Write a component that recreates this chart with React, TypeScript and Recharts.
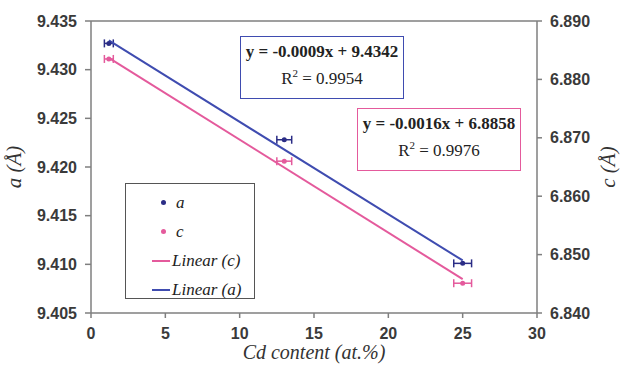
import { ScatterChart, Scatter, XAxis, YAxis, ErrorBar, ReferenceLine } from 'recharts'

document.body.style.margin = '0'

// measured lattice parameters vs Cd content
const cdContent = [1.2, 13.0, 25.0]
const cdError = [0.3, 0.5, 0.6]
const aValues = [9.4327, 9.4228, 9.4101]
const cValues = [6.8835, 6.866, 6.8451]

// linear trend endpoints as drawn
const trendX = [1.2, 25.0]
const trendA = [9.433, 9.4104]
const trendC = [6.8837, 6.8458]

const xTicks = [0, 5, 10, 15, 20, 25, 30]
const aTicks = [9.405, 9.41, 9.415, 9.42, 9.425, 9.43, 9.435]
const cTicks = [6.84, 6.85, 6.86, 6.87, 6.88, 6.89]

const BLUE = '#3f4cb0'
const NAVY = '#2b2d86'
const PINK = '#e45a9c'
const AXIS = '#7f7f7f'

const aData = cdContent.map((x, i) => ({ x, y: aValues[i], err: cdError[i] }))
const cData = cdContent.map((x, i) => ({ x, y: cValues[i], err: cdError[i] }))
const lineA = trendX.map((x, i) => ({ x, y: trendA[i] }))
const lineC = trendX.map((x, i) => ({ x, y: trendC[i] }))

const tickStyle = { fontFamily: 'Liberation Sans', fontSize: 16, fontWeight: 700, fill: '#3a3a3a' }
const serif = 'Liberation Serif'

const Dot = (color: string) => (props: any) => <circle cx={props.cx} cy={props.cy} r={2.5} fill={color} />
const NoDot = () => <g />

function Legend() {
  const row = { display: 'flex', alignItems: 'center', height: 29 }
  const label = { fontFamily: serif, fontStyle: 'italic', fontSize: 17, color: '#222' }
  return (
    <div style={{ position: 'absolute', left: 125, top: 183, width: 130, height: 116, border: '1.5px solid #555', boxSizing: 'border-box', padding: '4px 0 0 26px' }}>
      <div style={row}><span style={{ width: 5, height: 5, borderRadius: 3, background: NAVY, margin: '0 10px 0 9px' }} /><span style={label}>a</span></div>
      <div style={row}><span style={{ width: 5, height: 5, borderRadius: 3, background: PINK, margin: '0 10px 0 9px' }} /><span style={label}>c</span></div>
      <div style={row}><span style={{ width: 18, height: 2, background: PINK, marginRight: 2 }} /><span style={label}>Linear (c)</span></div>
      <div style={row}><span style={{ width: 18, height: 2, background: BLUE, marginRight: 2 }} /><span style={label}>Linear (a)</span></div>
    </div>
  )
}

function EqBox({ left, top, color, eq, r2 }: { left: number; top: number; color: string; eq: string; r2: string }) {
  return (
    <div style={{ position: 'absolute', left, top, width: 164, height: 63, border: `1.5px solid ${color}`, boxSizing: 'border-box', fontFamily: serif, fontSize: 17, color: '#222', textAlign: 'center', background: '#fff' }}>
      <div style={{ fontWeight: 700, marginTop: 5 }}>{eq}</div>
      <div style={{ marginTop: 5 }}>R<sup style={{ fontSize: 11 }}>2</sup> = {r2}</div>
    </div>
  )
}

export default function App() {
  return (
    <div style={{ position: 'relative', width: 620, height: 365, background: '#fff' }}>
      <ScatterChart width={620} height={365} margin={{ top: 21, right: 0, bottom: 0, left: 0 }}>
        <XAxis
          type="number"
          dataKey="x"
          domain={[0, 30]}
          ticks={xTicks}
          stroke={AXIS}
          strokeWidth={1.5}
          tickSize={5}
          tickMargin={10}
          tick={tickStyle}
          height={52}
          label={{ value: 'Cd content (at.%)', position: 'insideBottom', offset: 6, style: { fontFamily: serif, fontStyle: 'italic', fontSize: 20, fill: '#333' } }}
        />
        <YAxis
          yAxisId="a"
          type="number"
          dataKey="y"
          domain={[9.405, 9.435]}
          ticks={aTicks}
          tickFormatter={(v: number) => v.toFixed(3)}
          stroke={AXIS}
          strokeWidth={1.5}
          tickSize={6}
          tickMargin={8}
          tick={tickStyle}
          width={91}
          label={{ value: 'a (Å)', angle: -90, position: 'insideLeft', offset: 14, style: { fontFamily: serif, fontStyle: 'italic', fontSize: 21, fill: '#333', textAnchor: 'middle' } }}
        />
        <YAxis
          yAxisId="c"
          orientation="right"
          type="number"
          dataKey="y"
          domain={[6.84, 6.89]}
          ticks={cTicks}
          tickFormatter={(v: number) => v.toFixed(3)}
          stroke={AXIS}
          strokeWidth={1.5}
          tickSize={5}
          tickMargin={8}
          tick={tickStyle}
          width={83}
          label={{ value: 'c (Å)', angle: -90, position: 'insideRight', offset: 12, style: { fontFamily: serif, fontStyle: 'italic', fontSize: 21, fill: '#333', textAnchor: 'middle' } }}
        />
        <ReferenceLine yAxisId="a" y={9.435} stroke={AXIS} strokeWidth={1.5} />
        <Scatter yAxisId="c" data={lineC} line={{ stroke: PINK, strokeWidth: 2 }} shape={NoDot} isAnimationActive={false} />
        <Scatter yAxisId="a" data={lineA} line={{ stroke: BLUE, strokeWidth: 2 }} shape={NoDot} isAnimationActive={false} />
        <Scatter yAxisId="c" data={cData} shape={Dot(PINK)} isAnimationActive={false}>
          <ErrorBar dataKey="err" direction="x" stroke={PINK} strokeWidth={1.5} width={4} />
        </Scatter>
        <Scatter yAxisId="a" data={aData} shape={Dot(NAVY)} isAnimationActive={false}>
          <ErrorBar dataKey="err" direction="x" stroke={NAVY} strokeWidth={1.5} width={4} />
        </Scatter>
      </ScatterChart>
      <EqBox left={240} top={36} color={BLUE} eq="y = -0.0009x + 9.4342" r2="0.9954" />
      <EqBox left={357} top={108} color={PINK} eq="y = -0.0016x + 6.8858" r2="0.9976" />
      <Legend />
    </div>
  )
}
